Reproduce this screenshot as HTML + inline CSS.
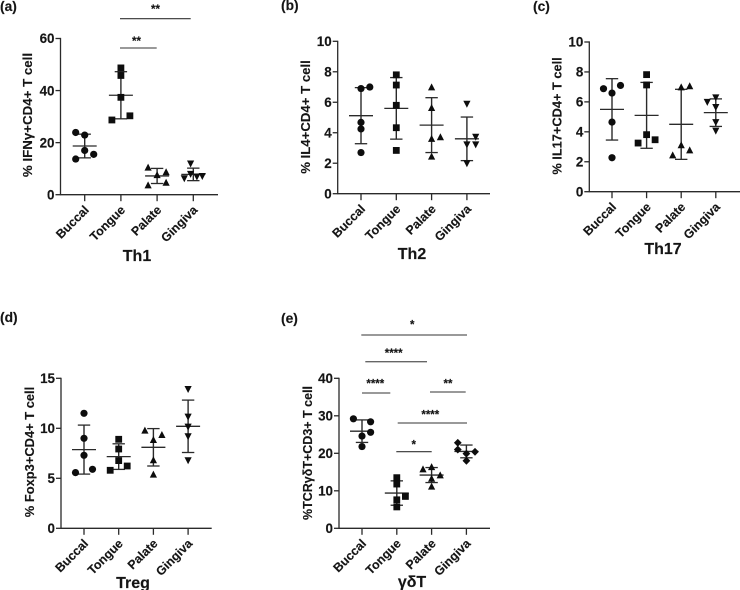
<!DOCTYPE html>
<html>
<head>
<meta charset="utf-8">
<style>
html,body{margin:0;padding:0;background:#fff;width:740px;height:590px;overflow:hidden}
svg{display:block;filter:blur(0.35px)}
text{font-family:"Liberation Sans",sans-serif;font-weight:bold;fill:#151515;stroke:#151515;stroke-width:0.15px}
.panel{font-size:13.8px}
.star{font-size:11.5px;text-anchor:middle}
.sig{stroke:#333;stroke-width:1.1}
</style>
</head>
<body>
<svg id="fig" width="740" height="590" viewBox="0 0 740 590" xmlns="http://www.w3.org/2000/svg">
  <text class="panel" x="0" y="11">(a)</text>
  <text class="panel" x="281" y="10">(b)</text>
  <text class="panel" x="533" y="11">(c)</text>
  <text class="panel" x="0" y="322">(d)</text>
  <text class="panel" x="281" y="323">(e)</text>

  <g>
    <line class="sig" x1="120" y1="18.7" x2="190.7" y2="18.7"/>
    <text class="star" x="155.5" y="13">**</text>
    <line class="sig" x1="120" y1="48" x2="156.7" y2="48"/>
    <text class="star" x="136.5" y="45">**</text>
  </g>
  <g>
    <line class="sig" x1="361.3" y1="335" x2="467" y2="335"/>
    <text class="star" x="412.3" y="328.3">*</text>
    <line class="sig" x1="365.3" y1="361.7" x2="427" y2="361.7" style="stroke-width:1.4;stroke:#666"/>
    <text class="star" x="393.7" y="357">****</text>
    <line class="sig" x1="362" y1="393" x2="390.3" y2="393"/>
    <text class="star" x="375.3" y="387.7">****</text>
    <line class="sig" x1="430" y1="392" x2="465.7" y2="392"/>
    <text class="star" x="448" y="387.7">**</text>
    <line class="sig" x1="397.7" y1="423" x2="467" y2="423"/>
    <text class="star" x="430.3" y="418.7">****</text>
    <line class="sig" x1="396.3" y1="451.7" x2="431.7" y2="451.7"/>
    <text class="star" x="413.7" y="448.3">*</text>
  </g>
</svg>
<script>
// Shared categories
const categories = ["Buccal", "Tongue", "Palate", "Gingiva"];

// Panel (a) Th1
const th1Ticks = [0, 20, 40, 60];
const th1Values = [[23.9, 22.9, 17, 15.5, 13.7], [48.7, 45.8, 37.4, 30.3, 28.7], [10.4, 8.6, 7.5, 4.6, 3.6], [12, 8, 7.2, 7, 6.3]];
const th1Jitter = [[-1, 0, 0, 1, -1], [0, 0, 0, 1, -1], [-1, 1, 0, 1, -1], [-0.3, -0.3, 1, 0.4, -1]];
const th1Means = [18.7, 38.2, 7.2, 7.8];
const th1Sds = [4.55, 9.05, 2.9, 2.4];

// Panel (b) Th2
const th2Ticks = [0, 2, 4, 6, 8, 10];
const th2Values = [[6.9, 7.0, 4.68, 4.25, 2.7], [7.8, 7.13, 5.8, 4.33, 2.84], [6.98, 5.62, 3.6, 3.7, 2.43], [5.9, 3.74, 3.24, 3.24, 2]];
const th2Jitter = [[0, 1, 0, 0, 0], [0, 0, 0, 0, 0], [0, 0, 0, 1, 0], [0, 1, 1, 0, 0]];
const th2Means = [5.12, 5.6, 4.5, 3.6];
const th2Sds = [1.84, 2.02, 1.8, 1.43];

// Panel (c) Th17
const th17Ticks = [0, 2, 4, 6, 8, 10];
const th17Values = [[6.88, 7.1, 6.59, 4.65, 2.27], [7.82, 7.13, 3.81, 3.47, 3.25], [6.97, 7.04, 3.1, 2.76, 2.43], [6.3, 6, 5.66, 4.65, 4.08]];
const th17Jitter = [[-1, 1, 0, 0, 0], [0, 0, 0, 1, -1], [0, 1, 0, 1, -1], [0, -1, 0, 0, 0]];
const th17Means = [5.5, 5.1, 4.5, 5.28];
const th17Sds = [2.05, 2.2, 2.34, 0.92];

// Panel (d) Treg
const tregTicks = [0, 5, 10, 15];
const tregValues = [[11.5, 9, 7.3, 5.9, 5.57], [8.9, 7.93, 6.77, 6.23, 5.8], [9.77, 9.33, 8.83, 6.8, 5.37], [13.93, 11.17, 10.17, 9.2, 6.8]];
const tregJitter = [[0, 0, 0, 1, -1], [0, 0, 0, 1, -1], [-1, 1, 0, 0, 0], [0, 0, 0, 0, 0]];
const tregMeans = [7.87, 7.17, 8.1, 10.2];
const tregSds = [2.45, 1.28, 1.87, 2.62];

// Panel (e) gamma-delta T
const gdtTicks = [0, 10, 20, 30, 40];
const gdtValues = [[29.2, 28.4, 25.6, 24.6, 21.8], [13.5, 11.8, 8.5, 7.6, 5.7], [15.7, 16.3, 14.1, 13.2, 11.1], [22.8, 21, 20.4, 19.9, 18]];
const gdtJitter = [[-1, 1, 1, 0, 0], [0, 0, 1, 0, 0], [-1, 0, 1, 0, 0], [-1, -1, 1, 0, 0]];
const gdtMeans = [25.9, 9.4, 14.2, 20.5];
const gdtSds = [3, 3.25, 2, 1.7];

const NS = "http://www.w3.org/2000/svg";
const fig = document.getElementById("fig");

function make(parent, tag, props) {
  const el = document.createElementNS(NS, tag);
  for (const k in props) el.setAttribute(k, props[k]);
  parent.appendChild(el);
  return el;
}
function lineEl(parent, x1, y1, x2, y2, w, name) {
  const el = make(parent, "line", { x1: x1, y1: y1, x2: x2, y2: y2, stroke: "#2a2a2a", "stroke-width": w });
  
  
  return el;
}
function textEl(parent, str, props, name) {
  const el = make(parent, "text", props);
  el.textContent = str;
  
  
  return el;
}
function marker(parent, kind, x, y, name) {
  let el;
  const r = 3.6;
  if (kind === "circle") el = make(parent, "circle", { cx: x, cy: y, r: r });
  else if (kind === "square") el = make(parent, "rect", { x: x - r + 0.2, y: y - r + 0.2, width: 2 * r - 0.4, height: 2 * r - 0.4 });
  else {
    let pts;
    if (kind === "up") pts = [[x, y - r - 0.4], [x + r, y + r - 0.6], [x - r, y + r - 0.6]];
    else if (kind === "down") pts = [[x, y + r + 0.4], [x + r, y - r + 0.6], [x - r, y - r + 0.6]];
    else pts = [[x, y - r - 0.3], [x + r + 0.3, y], [x, y + r + 0.3], [x - r - 0.3, y]];
    el = make(parent, "polygon", { points: pts.map(p => p.join(",")).join(" ") });
  }
  el.setAttribute("fill", "#0d0d0d");
  
  
}

function drawPanel(cfg) {
  const g = make(fig, "g", {});
  
  

  const top = cfg.ticks[cfg.ticks.length - 1];
  const sy = v => cfg.y0 - (v / top) * (cfg.y0 - cfg.yTop);
  const sx = i => cfg.x0 + i * cfg.step;

  // axes
  lineEl(g, cfg.axisX, cfg.yTop - 0.6, cfg.axisX, cfg.y0 + 0.6, 1.3, cfg.id + '-y-axis');
  lineEl(g, cfg.axisX, cfg.y0, cfg.axisEnd, cfg.y0, 1.3, cfg.id + '-x-axis');

  cfg.ticks.forEach(t => {
    lineEl(g, cfg.axisX - 5, sy(t), cfg.axisX, sy(t), 1.3, cfg.id + '-y-tick');
    textEl(g, t, { x: cfg.axisX - 6, y: sy(t) + 4.7, "text-anchor": "end", "font-size": 13.4 }, cfg.id + '-y-tick-label');
  });

  categories.forEach((c, i) => {
    const x = sx(i);
    lineEl(g, x, cfg.y0, x, cfg.y0 + 6.5, 1.3, cfg.id + '-x-tick');
    const lx = x + 5, ly = cfg.y0 + 16;
    textEl(g, c, { x: lx, y: ly, "text-anchor": "end", "font-size": 12.4, transform: "rotate(-45 " + lx + " " + ly + ")" }, cfg.id + '-x-label-' + c.toLowerCase());
  });

  // y title and group title
  textEl(g, cfg.yLabel, { x: 0, y: 0, "text-anchor": "middle", "font-size": cfg.yLabelSize, transform: "translate(" + cfg.yLabelX + " " + cfg.yLabelY + ") rotate(-90)" }, cfg.id + '-y-axis-title');
  textEl(g, cfg.title, { x: cfg.titleX, y: cfg.titleY, "text-anchor": "middle", "font-size": 16 }, cfg.id + '-title');

  // series
  const kinds = cfg.kinds;
  categories.forEach((c, i) => {
    const x = sx(i);
    const key = cfg.id + '-' + c.toLowerCase();
    const m = cfg.means[i], s = cfg.sds[i];
    lineEl(g, x, sy(m + s), x, sy(m - s), 1.4, key + '-error-bar');
    lineEl(g, x - 6.2, sy(m + s), x + 6.2, sy(m + s), 1.3, key + '-sd-cap-upper');
    lineEl(g, x - 6.2, sy(m - s), x + 6.2, sy(m - s), 1.3, key + '-sd-cap-lower');
    lineEl(g, x - 12, sy(m), x + 12, sy(m), 1.3, key + '-mean-line');
    cfg.values[i].forEach((v, j) => {
      marker(g, kinds[i], x + cfg.jitter[i][j] * cfg.spread, sy(v), key + '-point');
    });
  });
}

drawPanel({ id: "th1", ticks: th1Ticks, values: th1Values, jitter: th1Jitter, means: th1Means, sds: th1Sds,
  kinds: ["circle", "square", "up", "down"], axisX: 60.5, axisEnd: 218, yTop: 38.5, y0: 194.7, x0: 84.7, step: 36.2, spread: 9,
  yLabel: "% IFNγ+CD4+ T cell", yLabelSize: 13.3, yLabelX: 32, yLabelY: 115, title: "Th1", titleX: 137, titleY: 261 });

drawPanel({ id: "th2", ticks: th2Ticks, values: th2Values, jitter: th2Jitter, means: th2Means, sds: th2Sds,
  kinds: ["circle", "square", "up", "down"], axisX: 337.7, axisEnd: 490, yTop: 41.3, y0: 193.7, x0: 361, step: 35.3, spread: 8.8,
  yLabel: "% IL4+CD4+ T cell", yLabelSize: 13.2, yLabelX: 310, yLabelY: 117, title: "Th2", titleX: 412, titleY: 259 });

drawPanel({ id: "th17", ticks: th17Ticks, values: th17Values, jitter: th17Jitter, means: th17Means, sds: th17Sds,
  kinds: ["circle", "square", "up", "down"], axisX: 589.3, axisEnd: 740, yTop: 42, y0: 191.7, x0: 612, step: 34.6, spread: 8.5,
  yLabel: "% IL17+CD4+ T cell", yLabelSize: 12.8, yLabelX: 561.5, yLabelY: 116, title: "Th17", titleX: 663, titleY: 254 });

drawPanel({ id: "treg", ticks: tregTicks, values: tregValues, jitter: tregJitter, means: tregMeans, sds: tregSds,
  kinds: ["circle", "square", "up", "down"], axisX: 61, axisEnd: 211.7, yTop: 378.3, y0: 528.3, x0: 84, step: 34.7, spread: 8.5,
  yLabel: "% Foxp3+CD4+ T cell", yLabelSize: 12.9, yLabelX: 34, yLabelY: 452, title: "Treg", titleX: 133, titleY: 588 });

drawPanel({ id: "gdt", ticks: gdtTicks, values: gdtValues, jitter: gdtJitter, means: gdtMeans, sds: gdtSds,
  kinds: ["circle", "square", "up", "diamond"], axisX: 339, axisEnd: 490, yTop: 378.3, y0: 528.3, x0: 362, step: 34.8, spread: 8.6,
  yLabel: "%TCRγδT+CD3+ T cell", yLabelSize: 12.5, yLabelX: 312, yLabelY: 453, title: "γδT", titleX: 412, titleY: 587 });
</script>
</body>
</html>
